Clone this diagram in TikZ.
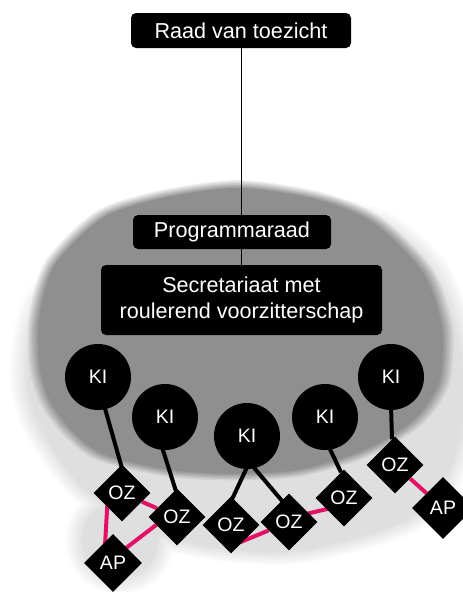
\documentclass[tikz,border=0pt]{standalone}
\usepackage{fontspec}
\setmainfont{Liberation Sans}
\usetikzlibrary{shapes.geometric,calc}
\definecolor{pinkline}{RGB}{228,16,104}
\definecolor{darkgrey}{RGB}{143,143,143}
\definecolor{lightgrey}{RGB}{223,223,223}
\pgfdeclarelayer{bg}
\pgfdeclarelayer{edges}
\pgfsetlayers{bg,edges,main}
\begin{document}
\begin{tikzpicture}[x=1pt,y=-1pt,
  box/.style={fill=black, rounded corners=5pt, text=white, font=\fontsize{21.6}{25.7}\selectfont, align=center, inner sep=0pt},
  kinode/.style={circle, fill=black, minimum size=66pt, inner sep=0pt, text=white, font=\fontsize{19.5}{20}\selectfont},
  oznode/.style={diamond, fill=black, minimum width=57pt, minimum height=57pt, inner sep=0pt, text=white, font=\fontsize{19.5}{20}\selectfont},
  tie/.style={line width=4pt, black},
  pinktie/.style={line width=4pt, pinkline},
  thinline/.style={line width=1pt, black}]
\useasboundingbox (0,0) rectangle (463,592);
\clip (0,0) rectangle (463,592);

% grey areas
\begin{pgfonlayer}{bg}
\foreach \k in {1,...,10} {
  \pgfmathtruncatemacro\p{10*\k}
  \pgfmathsetmacro\f{1.045-0.009*\k}
  \pgfmathsetmacro\r{57-2*\k}
  \fill[lightgrey!\p!white, scale around={\f:(250,390)}] plot[smooth cycle] coordinates {(240,200) (330,204) (388,220) (437,262) (462,315) (474,380) (472,430) (455,480) (425,518) (383,538) (300,558) (233,557) (170,546) (120,525) (77,493) (50,460) (27,420) (18,380) (22,330) (40,287) (92,240) (150,212)};
  \fill[lightgrey!\p!white] (120,540) circle[radius=\r];
}
\foreach \i in {1,...,6} {
  \pgfmathsetmacro\f{1.025-0.01*(\i-1)}
  \pgfmathsetmacro\o{1/(7-\i)}
  \fill[darkgrey, fill opacity=\o, scale around={\f:(237,340)}] plot[smooth cycle] coordinates {(240,184) (320,196) (377,220) (427,270) (446,320) (448,352) (443,387) (417,423) (367,453) (300,473) (233,477) (167,473) (100,457) (67,432) (45,402) (35,370) (33,330) (38,297) (50,263) (80,230) (110,209) (167,193)};
}
\end{pgfonlayer}

% boxes
\node[box, minimum width=220, minimum height=35] (raad) at (241,30.5) {Raad van toezicht};
\node[box, minimum width=198, minimum height=34] (prog) at (232,232) {Programmaraad};
\node[box, minimum width=281, minimum height=70] (secr) at (241.5,300) {Secretariaat met\\roulerend voorzitterschap};

% KI circles
\node[kinode] (ki1) at (98,377) {KI};
\node[kinode] (ki2) at (165,417) {KI};
\node[kinode] (ki3) at (247,436) {KI};
\node[kinode] (ki4) at (325,417) {KI};
\node[kinode] (ki5) at (391,377) {KI};

% OZ / AP diamonds
\node[oznode] (oz1) at (122,493) {OZ};
\node[oznode] (oz2) at (177,517) {OZ};
\node[oznode] (oz3) at (231,525) {OZ};
\node[oznode] (oz4) at (289,522) {OZ};
\node[oznode] (oz5) at (344,498) {OZ};
\node[oznode] (oz6) at (395,465) {OZ};
\node[oznode, minimum width=58pt, minimum height=58pt] (ap1) at (113,563) {AP};
\node[oznode, minimum width=62pt, minimum height=62pt] (ap2) at (443,508) {AP};

% connectors
\begin{pgfonlayer}{edges}
\draw[thinline] (raad.south) -- (raad.south |- prog.north);
\draw[thinline] (raad.south |- prog.south) -- (raad.south |- secr.north);
\draw[tie] ($(ki1)+(6,28)$) -- ($(oz1.north)+(0,4)$);
\draw[tie] ($(ki2)+(-3,30)$) -- ($(oz2.north)+(-1,3)$);
\draw[tie] ($(ki3)+(2,27)$) -- ($(oz3.north)+(1,3)$);
\draw[tie] ($(ki3)+(3,27)$) -- ($(oz4)+(-6,-20)$);
\draw[tie] ($(ki4)+(3,28)$) -- ($(oz5.north)+(-3,3)$);
\draw[tie] ($(ki5)+(0,28)$) -- ($(oz6.north)+(-3,3)$);
\draw[pinktie] (oz1) -- (oz2);
\draw[pinktie] ($(oz1)+(-14,0)$) -- ($(ap1)+(-9,0)$);
\draw[pinktie] ($(oz2)+(0,-8)$) -- ($(ap1)+(0,-5)$);
\draw[pinktie] ($(oz3)+(0,21)$) -- (oz4);
\draw[pinktie] ($(oz4)+(0,-4)$) -- ($(oz5)+(0,7)$);
\draw[pinktie] (oz6) -- (ap2);
\end{pgfonlayer}
\end{tikzpicture}
\end{document}
